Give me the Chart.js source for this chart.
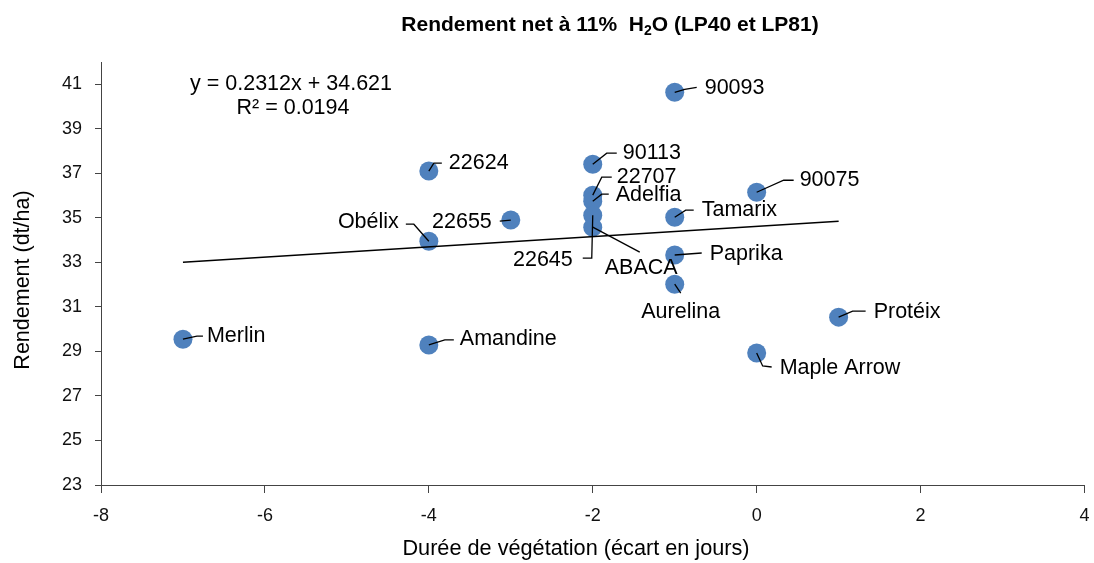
<!DOCTYPE html>
<html>
<head>
<meta charset="utf-8">
<script src="https://cdn.jsdelivr.net/npm/chart.js@4/dist/chart.umd.min.js"></script>
<style>
  body { margin: 0; background: #fff; }
</style>
</head>
<body>
<canvas id="yield-chart" width="1094" height="563"></canvas>
<script>
// values
var varieties = ['Merlin', 'Amandine', 'Obélix', '22624', '22655', '90113', '22707', 'Adelfia', '22645',
                 'ABACA', '90093', '90075', 'Tamarix', 'Paprika', 'Aurelina', 'Protéix', 'Maple Arrow'];
var durations = [-7, -4, -4, -4, -3, -2, -2, -2, -2, -2, -1, 0, -1, -1, -1, 1, 0];
var yields = [29.55, 29.29, 33.95, 37.1, 34.9, 37.41, 36.02, 35.75, 35.12,
              34.58, 40.64, 36.15, 35.03, 33.33, 32.02, 30.54, 28.93];
var xTicks = [-8, -6, -4, -2, 0, 2, 4];
var yTicks = [23, 25, 27, 29, 31, 33, 35, 37, 39, 41];
var trendSlope = 0.2312;
var trendIntercept = 34.621;
var trendFrom = -7, trendTo = 1;
var equationText = ['y = 0.2312x + 34.621', 'R² = 0.0194'];

// label placement: text offset from the dot, alignment, leader line (offsets from the dot)
var labelLayout = {
  'Merlin':      { dx: 24,  dy: -3,  align: 'left',   leader: [[0, 0], [14, -3], [20, -3]] },
  'Amandine':    { dx: 31,  dy: -6,  align: 'left',   leader: [[0, 0], [16, -5], [25, -5]] },
  'Obélix':      { dx: -30, dy: -19, align: 'right',  leader: [[0, 0], [-15, -17], [-23, -17]] },
  '22624':       { dx: 20,  dy: -8,  align: 'left',   leader: [[0, 0], [5, -8], [13, -8]] },
  '22655':       { dx: -19, dy: 2,   align: 'right',  leader: [[0, 0], [-11, 1]] },
  '90113':       { dx: 30,  dy: -11, align: 'left',   leader: [[0, 0], [14, -11], [24, -11]] },
  '22707':       { dx: 24,  dy: -18, align: 'left',   leader: [[0, 0], [9, -18], [19, -18]] },
  'Adelfia':     { dx: 23,  dy: -6,  align: 'left',   leader: [[0, 0], [9, -7], [16, -7]] },
  '22645':       { dx: -20, dy: 45,  align: 'right',  leader: [[0, 0], [-1, 43], [-10, 43]] },
  'ABACA':       { dx: 12,  dy: 41,  align: 'left',   leader: [[0, 0], [47, 25]] },
  '90093':       { dx: 30,  dy: -4,  align: 'left',   leader: [[0, 0], [10, -3], [22, -5]] },
  '90075':       { dx: 43,  dy: -12, align: 'left',   leader: [[0, 0], [27, -12], [37, -12]] },
  'Tamarix':     { dx: 27,  dy: -7,  align: 'left',   leader: [[0, 0], [11, -7], [19, -7]] },
  'Paprika':     { dx: 35,  dy: -1,  align: 'left',   leader: [[0, 0], [27, -2]] },
  'Aurelina':    { dx: 6,   dy: 28,  align: 'center', leader: [[0, 0], [6, 9]] },
  'Protéix':     { dx: 35,  dy: -5,  align: 'left',   leader: [[0, 0], [14, -6], [27, -6]] },
  'Maple Arrow': { dx: 23,  dy: 15,  align: 'left',   leader: [[0, 0], [6, 13], [15, 14]] }
};

var FONT = '"Liberation Sans", Arial, sans-serif';

var points = varieties.map(function (v, i) { return { x: durations[i], y: yields[i] }; });
var trend = [trendFrom, trendTo].map(function (x) { return { x: x, y: trendSlope * x + trendIntercept }; });

var annotations = {
  id: 'annotations',
  afterDatasetsDraw: function (chart) {
    var ctx = chart.ctx;
    var meta = chart.getDatasetMeta(1);
    ctx.save();
    // leader lines
    ctx.strokeStyle = '#000';
    ctx.lineWidth = 1.3;
    meta.data.forEach(function (el, i) {
      var lay = labelLayout[varieties[i]];
      ctx.beginPath();
      lay.leader.forEach(function (p, k) {
        if (k === 0) ctx.moveTo(el.x + p[0], el.y + p[1]);
        else ctx.lineTo(el.x + p[0], el.y + p[1]);
      });
      ctx.stroke();
    });
    // point labels
    ctx.fillStyle = '#000';
    ctx.font = '21.5px ' + FONT;
    ctx.textBaseline = 'middle';
    meta.data.forEach(function (el, i) {
      var lay = labelLayout[varieties[i]];
      ctx.textAlign = lay.align;
      ctx.fillText(varieties[i], el.x + lay.dx, el.y + lay.dy);
    });
    // trend equation
    ctx.textAlign = 'center';
    ctx.fillText(equationText[0], 291, 84);
    ctx.fillText(equationText[1], 293, 108);

    // chart title with subscript
    ctx.font = 'bold 21px ' + FONT;
    var p1 = 'Rendement net à 11%  H', p2 = '2', p3 = 'O (LP40 et LP81)';
    var w1 = ctx.measureText(p1).width, w3 = ctx.measureText(p3).width;
    ctx.font = 'bold 14px ' + FONT;
    var w2 = ctx.measureText(p2).width;
    var x0 = 610 - (w1 + w2 + w3) / 2;
    ctx.textAlign = 'left';
    ctx.font = 'bold 21px ' + FONT;
    ctx.fillText(p1, x0, 25);
    ctx.fillText(p3, x0 + w1 + w2, 25);
    ctx.font = 'bold 14px ' + FONT;
    ctx.fillText(p2, x0 + w1, 31);

    // axis titles
    ctx.font = '21.7px ' + FONT;
    ctx.textAlign = 'center';
    ctx.fillText('Durée de végétation (écart en jours)', 576, 549);
    ctx.translate(23, 280);
    ctx.rotate(-Math.PI / 2);
    ctx.font = '21.5px ' + FONT;
    ctx.fillText('Rendement (dt/ha)', 0, 0);
    ctx.restore();
  }
};

new Chart(document.getElementById('yield-chart'), {
  type: 'scatter',
  data: {
    datasets: [{
      label: 'Tendance',
      data: trend,
      showLine: true,
      borderColor: '#000',
      borderWidth: 1.5,
      pointRadius: 0,
      order: 0
    }, {
      label: 'Rendement',
      data: points,
      backgroundColor: '#4F81BD',
      borderWidth: 0,
      pointRadius: 9.5,
      order: 1
    }]
  },
  options: {
    responsive: false,
    animation: false,
    layout: { padding: { top: 62, right: 6, left: 0, bottom: 0 } },
    plugins: { legend: { display: false }, tooltip: { enabled: false } },
    scales: {
      x: {
        min: -8, max: 4,
        afterBuildTicks: function (s) { s.ticks = xTicks.map(function (v) { return { value: v }; }); },
        afterFit: function (s) { s.height = 78; s.paddingLeft = 0; s.paddingRight = 0; },
        ticks: { color: '#111', font: { family: FONT, size: 18 }, padding: 12 },
        grid: { drawOnChartArea: false, tickLength: 8, color: '#444' },
        border: { color: '#444', width: 1 }
      },
      y: {
        min: 23, max: 42,
        afterBuildTicks: function (s) { s.ticks = yTicks.map(function (v) { return { value: v }; }); },
        afterFit: function (s) { s.width = 101; s.paddingTop = 0; s.paddingBottom = 0; },
        ticks: { color: '#111', font: { family: FONT, size: 18 }, padding: 13 },
        grid: { drawOnChartArea: false, tickLength: 6, color: '#444' },
        border: { color: '#444', width: 1 }
      }
    }
  },
  plugins: [annotations]
});
</script>
</body>
</html>
